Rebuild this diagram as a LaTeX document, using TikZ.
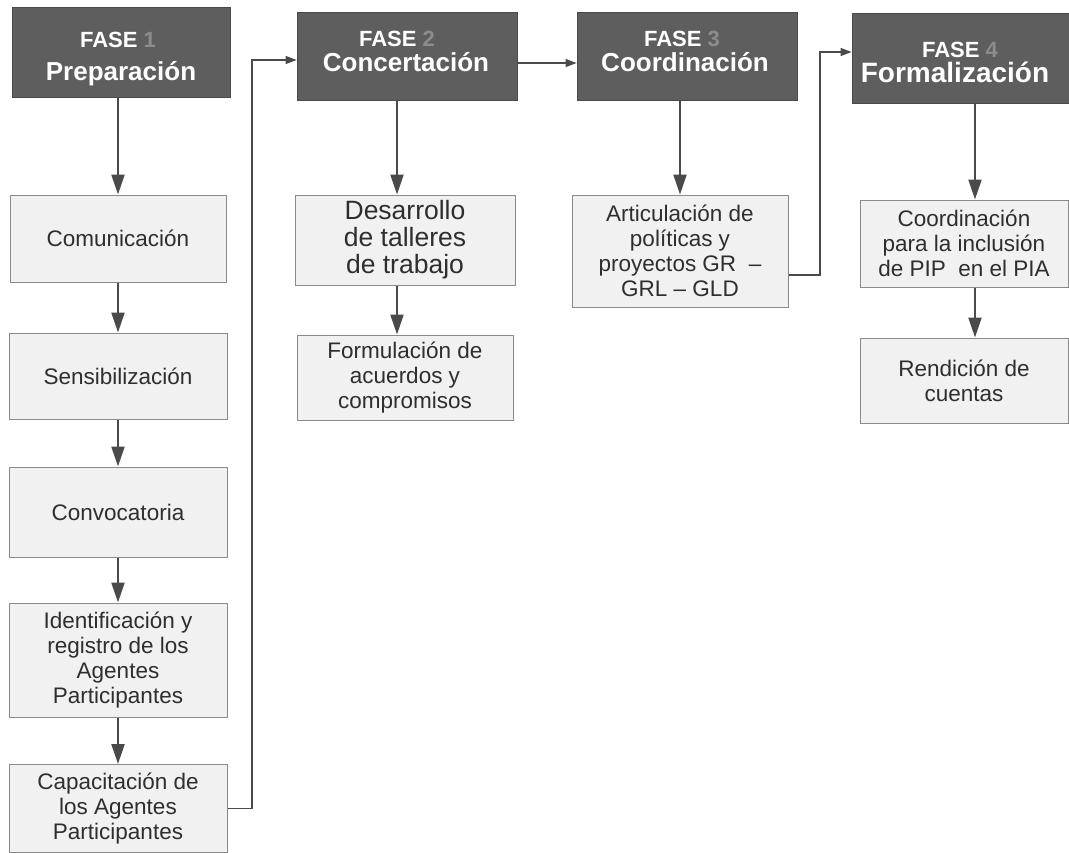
\documentclass[tikz,border=0pt]{standalone}
\usepackage{fontspec}
\setmainfont{Liberation Sans}
\usetikzlibrary{arrows.meta,calc}
\definecolor{hdr}{HTML}{5E5E5E}
\definecolor{hdrline}{HTML}{4A4A4A}
\definecolor{hnum}{HTML}{8C8C8C}
\definecolor{bfill}{HTML}{F1F1F1}
\definecolor{bline}{HTML}{8A8A8A}
\definecolor{btext}{HTML}{2E2E2E}
\definecolor{arr}{HTML}{4A4A4A}
\begin{document}
\begin{tikzpicture}[x=1pt,y=-1pt,
  hdrbox/.style={fill=hdr, draw=hdrline, line width=0.8pt, inner sep=0pt},
  fasetext/.style={text=white, anchor=base, inner sep=0pt, font=\bfseries\fontsize{22}{22}\selectfont},
  titletext/.style={text=white, anchor=base, inner sep=0pt, font=\bfseries\fontsize{26}{26}\selectfont},
  stepbox/.style={fill=bfill, draw=bline, line width=1pt, text=btext, align=center, inner sep=0pt,
                  font=\fontsize{22.5}{25}\selectfont},
  bigbox/.style={stepbox, font=\fontsize{26.5}{27}\selectfont},
  flow/.style={draw=arr, line width=2.2pt, -{Triangle[width=13pt,length=20pt]}},
  link/.style={draw=arr, line width=1.3pt, -{Triangle[width=8pt,length=11pt]}},
]
\useasboundingbox (0,0) rectangle (1069,852);

% headers
\node[hdrbox, minimum width=218pt, minimum height=90pt] (h1) at (121,52) {};
\node[hdrbox, minimum width=220pt, minimum height=88pt] (h2) at (407,56) {};
\node[hdrbox, minimum width=220pt, minimum height=88pt] (h3) at (687,56) {};
\node[hdrbox, minimum width=223pt, minimum height=90pt] (h4) at (963.5,58) {};

\node[fasetext] (h1a) at (118,47) {FASE \textcolor{hnum}{1}};
\node[titletext] (h1b) at (121,80) {Preparación};
\node[fasetext] (h2a) at (397,46) {FASE \textcolor{hnum}{2}};
\node[titletext] (h2b) at (406,71) {Concertación};
\node[fasetext] (h3a) at (682,46) {FASE \textcolor{hnum}{3}};
\node[titletext] (h3b) at (685,71) {Coordinación};
\node[fasetext] (h4a) at (960,57) {FASE \textcolor{hnum}{4}};
\node[titletext, font=\bfseries\fontsize{28}{28}\selectfont] (h4b) at (955,82) {Formalización};

% column 1
\node[stepbox, minimum width=216pt, minimum height=87pt] (com) at (118,238.5) {Comunicación};
\node[stepbox, minimum width=218pt, minimum height=86pt] (sen) at (118,376) {Sensibilización};
\node[stepbox, minimum width=218pt, minimum height=90pt] (conv) at (118,512) {Convocatoria};
\node[stepbox, minimum width=218pt, minimum height=114pt] (ident) at (118,660)
  {Identificación y\\registro de los\\Agentes\\Participantes};
\node[stepbox, minimum width=218pt, minimum height=88pt] (cap) at (118,808.5)
  {Capacitación de\\los Agentes\\Participantes};

% column 2
\node[bigbox, minimum width=220pt, minimum height=90pt] (ds) at (405,240)
  {Desarrollo\\de talleres\\de trabajo};
\node[stepbox, minimum width=216pt, minimum height=85pt] (fm) at (405,377.5)
  {Formulación de\\acuerdos y\\compromisos};

% column 3
\node[stepbox, minimum width=216pt, minimum height=112pt] (art) at (680,251)
  {Articulación de\\políticas y\\proyectos GR \ –\\GRL – GLD};

% column 4
\node[stepbox, minimum width=208pt, minimum height=87pt] (coo) at (964,243.5)
  {Coordinación\\para la inclusión\\de PIP \ en el PIA};
\node[stepbox, minimum width=208pt, minimum height=85pt] (ren) at (964,380.5)
  {Rendición de\\cuentas};

% helper coordinates
\coordinate (c2) at (397,0);
\coordinate (c4) at (975,0);
\coordinate (k1) at (252,0);
\coordinate (k2) at (820,275);

% flows
\draw[flow] (h1.south -| com.north) -- (com.north);
\draw[flow] (com.south) -- (sen.north);
\draw[flow] (sen.south) -- (conv.north);
\draw[flow] (conv.south) -- (ident.north);
\draw[flow] (ident.south) -- (cap.north);

\draw[flow] (h2.south -| c2) -- (ds.north -| c2);
\draw[flow] (ds.south -| c2) -- (fm.north -| c2);

\draw[flow] (h3.south -| art.north) -- (art.north);

\draw[flow] (h4.south -| c4) -- (coo.north -| c4);
\draw[flow] (coo.south -| c4) -- (ren.north -| c4);

% links between phases
\draw[link] (cap.east) -- (cap.east -| k1) |- ([yshift=-4pt]h2.west);
\draw[link] ([yshift=-7pt]h2.east) -- ([yshift=-7pt]h3.west);
\draw[link] ([yshift=-24pt]art.east) -- (k2) |- ([yshift=6pt]h4.west);
\end{tikzpicture}
\end{document}
